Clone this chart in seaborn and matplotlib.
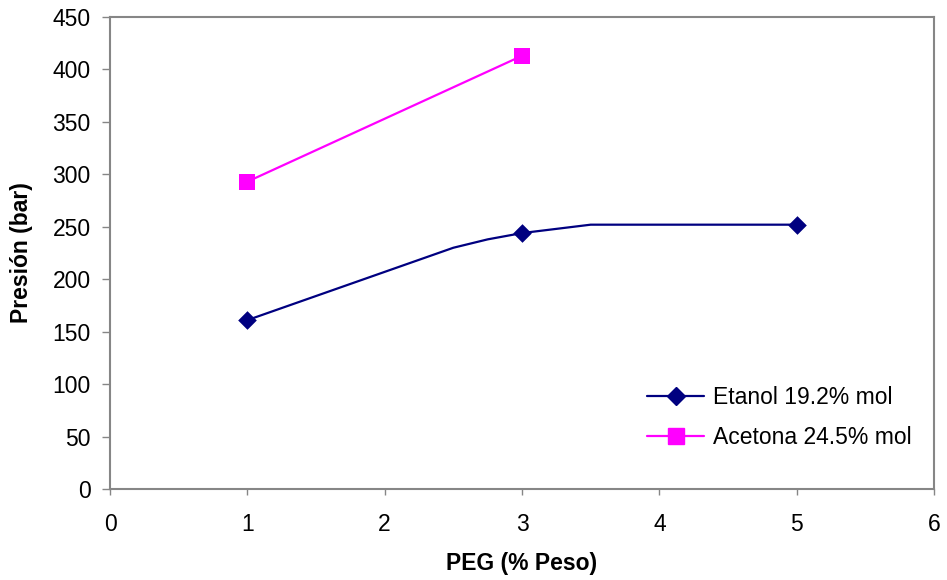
import matplotlib
matplotlib.use("Agg")
import matplotlib.pyplot as plt
from matplotlib.lines import Line2D
import seaborn as sns
import pandas as pd

# Data
etanol_line_x = [1, 2.5, 2.75, 3, 3.5, 5]
etanol_line_y = [161, 230, 238, 244, 252, 252]
etanol_x = [1, 3, 5]
etanol_y = [161, 244, 252]
acetona_x = [1, 3]
acetona_y = [293, 413]
labels = ["Etanol 19.2% mol", "Acetona 24.5% mol"]
xticks = [0, 1, 2, 3, 4, 5, 6]
yticks = [0, 50, 100, 150, 200, 250, 300, 350, 400, 450]

sns.set_theme(style="white")
plt.rcParams["font.family"] = ["Liberation Sans", "DejaVu Sans"]
plt.rcParams["text.color"] = "black"
plt.rcParams["axes.labelcolor"] = "black"
plt.rcParams["xtick.color"] = "black"
plt.rcParams["ytick.color"] = "black"

c_et = "#000080"
c_ac = "#FF00FF"
gray = "#868686"

fig = plt.figure(figsize=(9.47, 5.80), dpi=100)
ax = fig.add_axes([110 / 947, 1 - 489 / 580, (934 - 110) / 947, (489 - 17) / 580])

sns.lineplot(x=etanol_line_x, y=etanol_line_y, ax=ax, color=c_et, linewidth=1.6,
             sort=False, estimator=None)
sns.scatterplot(x=etanol_x, y=etanol_y, ax=ax, color=c_et, marker="D", s=90,
                edgecolor=c_et, linewidth=0, zorder=3)
sns.lineplot(x=acetona_x, y=acetona_y, ax=ax, color=c_ac, linewidth=1.6,
             sort=False, estimator=None)
sns.scatterplot(x=acetona_x, y=acetona_y, ax=ax, color=c_ac, marker="s", s=135,
                edgecolor=c_ac, linewidth=0, zorder=3)

ax.set_xlim(0, 6)
ax.set_ylim(0, 450)
ax.set_xticks(xticks)
ax.set_yticks(yticks)
ax.set_xticklabels([str(t) for t in xticks])
ax.set_yticklabels([str(t) for t in yticks])

for s in ax.spines.values():
    s.set_color(gray)
    s.set_linewidth(1.5)
ax.tick_params(axis="y", direction="out", length=6, width=1, color=gray,
               labelsize=16.5, pad=8, labelcolor="black", left=True)
ax.tick_params(axis="x", direction="out", length=4, width=1, color=gray,
               labelsize=16.5, pad=13, labelcolor="black", bottom=True)
ax.grid(False)

ax.set_xlabel("PEG (% Peso)", fontsize=16.5, fontweight="bold", labelpad=12, color="black")
ax.set_ylabel("Presión (bar)", fontsize=16.5, fontweight="bold", labelpad=14, color="black")

handles = [
    Line2D([], [], color=c_et, linewidth=1.6, marker="D", markersize=9),
    Line2D([], [], color=c_ac, linewidth=1.6, marker="s", markersize=11),
]
leg = fig.legend(handles, labels, loc="upper left", bbox_to_anchor=(647 / 947, 1 - 386 / 580),
                 frameon=False, fontsize=16.5, handlelength=2.5, handletextpad=0.4,
                 labelspacing=0.75, borderpad=0, borderaxespad=0)
for t in leg.get_texts():
    t.set_color("black")

fig.savefig("out.png", dpi=100)
